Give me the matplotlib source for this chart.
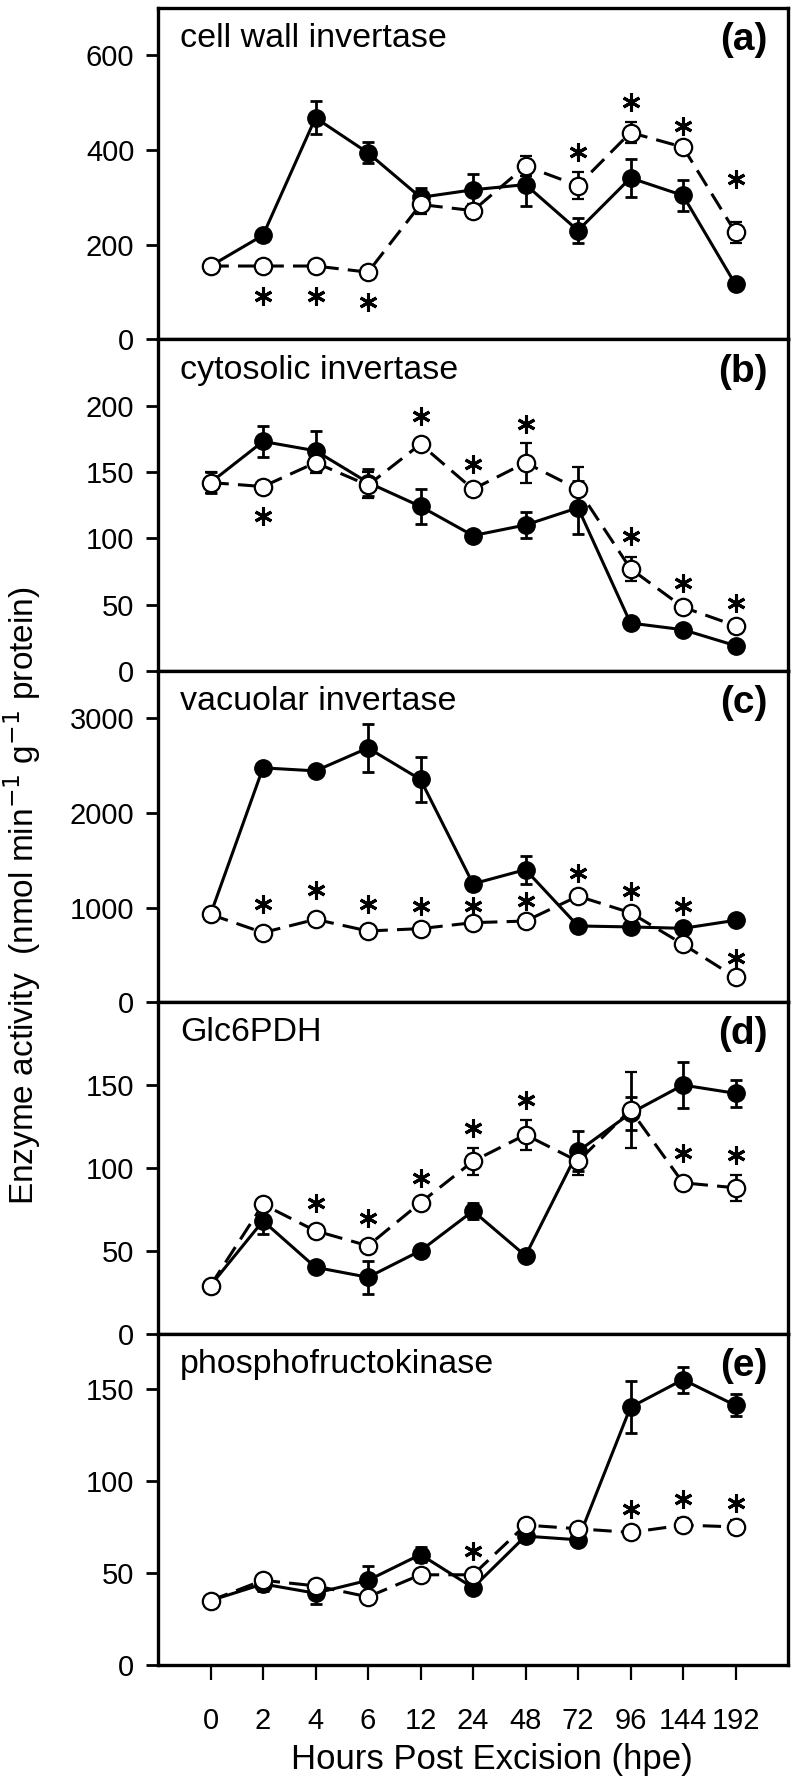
import numpy as np
from matplotlib import pyplot as plt

plt.rcParams['font.family'] = ['Liberation Sans', 'DejaVu Sans']

hours = ['0', '2', '4', '6', '12', '24', '48', '72', '96', '144', '192']

# (a) cell wall invertase
cwi_fill = [155, 220, 468, 394, 300, 316, 327, 230, 341, 304, 116]
cwi_fill_se = [6, 12, 35, 22, 20, 33, 45, 27, 40, 33, 6]
cwi_open = [155, 155, 155, 142, 285, 272, 366, 325, 437, 406, 226]
cwi_open_se = [6, 6, 6, 6, 20, 15, 21, 29, 23, 12, 22]
cwi_stars = [(1, 92), (2, 92), (3, 80), (7, 395), (8, 502), (9, 450), (10, 338)]

# (b) cytosolic invertase
cyt_fill = [142, 173, 166, 142, 124, 102, 110, 123, 36, 31, 19]
cyt_fill_se = [8, 12, 15, 10, 13, 3, 10, 20, 3, 3, 3]
cyt_open = [142, 139, 157, 140, 171, 137, 157, 137, 77, 48, 34]
cyt_open_se = [8, 4, 8, 10, 4, 4, 15, 17, 9, 4, 4]
cyt_stars = [(1, 117), (4, 192), (5, 156), (6, 186), (8, 102), (9, 66), (10, 51)]

# (c) vacuolar invertase
vac_fill = [927, 2475, 2443, 2685, 2352, 1250, 1400, 805, 795, 780, 865]
vac_fill_se = [30, 40, 50, 255, 240, 60, 147, 40, 40, 50, 40]
vac_open = [927, 735, 875, 752, 777, 840, 857, 1120, 945, 612, 262]
vac_open_se = [30, 30, 30, 30, 30, 30, 30, 30, 30, 30, 30]
vac_stars = [(1, 1032), (2, 1180), (3, 1032), (4, 1015), (5, 1015), (6, 1067),
             (7, 1365), (8, 1172), (9, 1015), (10, 472)]

# (d) Glc6PDH
g6p_fill = [29, 68, 40, 34, 50, 74, 47, 110, 133, 150, 145]
g6p_fill_se = [2, 8, 3, 10, 3, 5, 3, 12, 10, 14, 8]
g6p_open = [29, 78, 62, 53, 79, 104, 120, 104, 135, 91, 88]
g6p_open_se = [2, 3, 3, 3, 3, 8, 9, 8, 23, 3, 8]
g6p_stars = [(2, 79), (3, 70), (4, 94), (5, 124), (6, 141), (9, 109), (10, 108)]

# (e) phosphofructokinase
pfk_fill = [35, 44, 39, 46, 60, 42, 70, 68, 140, 155, 141]
pfk_fill_se = [2, 4, 6, 8, 4, 2, 3, 3, 14, 7, 6]
pfk_open = [35, 46, 43, 37, 49, 49, 76, 74, 72, 76, 75]
pfk_open_se = [2, 2, 2, 2, 2, 2, 2, 2, 2, 4, 4]
pfk_stars = [(5, 62), (8, 85), (9, 90), (10, 88)]

panels = [
    ('cell wall invertase', '(a)', cwi_fill, cwi_fill_se, cwi_open, cwi_open_se, cwi_stars, 700, [0, 200, 400, 600]),
    ('cytosolic invertase', '(b)', cyt_fill, cyt_fill_se, cyt_open, cyt_open_se, cyt_stars, 250, [0, 50, 100, 150, 200]),
    ('vacuolar invertase', '(c)', vac_fill, vac_fill_se, vac_open, vac_open_se, vac_stars, 3500, [0, 1000, 2000, 3000]),
    ('Glc6PDH', '(d)', g6p_fill, g6p_fill_se, g6p_open, g6p_open_se, g6p_stars, 200, [0, 50, 100, 150]),
    ('phosphofructokinase', '(e)', pfk_fill, pfk_fill_se, pfk_open, pfk_open_se, pfk_stars, 180, [0, 50, 100, 150]),
]

fig = plt.figure(figsize=(7.96, 17.8), dpi=100)
gs = fig.add_gridspec(5, 1, left=158/796, right=788/796, top=1 - 8/1780,
                      bottom=1 - 1665/1780, hspace=0)

x = np.arange(len(hours))
for i, (title, letter, yf, ef, yo, eo, stars, ymax, yticks) in enumerate(panels):
    ax = fig.add_subplot(gs[i])
    ax.errorbar(x, yf, yerr=ef, color='black', lw=2.2, marker='o', ms=12.5,
                mfc='black', mec='black', elinewidth=2, capsize=4, capthick=2, zorder=2)
    ax.errorbar(x, yo, yerr=eo, color='black', lw=2.2, ls=(0, (6, 3)), marker='o', ms=12.5,
                mfc='white', mec='black', mew=1.6, elinewidth=2, capsize=4, capthick=2, zorder=3)
    sx = [s[0] for s in stars]
    sy = [s[1] for s in stars]
    ax.plot(sx, sy, ls='none', marker=(6, 2, 0), ms=13, mew=2.2, color='black', zorder=4)

    ax.set_xlim(-1, 11)
    ax.set_ylim(0, ymax)
    ax.set_yticks(yticks)
    ax.tick_params(axis='y', direction='out', length=9, width=2, pad=8, labelsize=21)
    for sp in ax.spines.values():
        sp.set_linewidth(2.4)
    ax.text(0.035, 0.882, title, transform=ax.transAxes, fontsize=24.5, va='baseline', ha='left')
    ax.text(0.968, 0.903, letter, transform=ax.transAxes, fontsize=28, fontweight='bold',
            va='center', ha='right')
    if i < 4:
        ax.set_xticks([])
    else:
        ax.set_xticks(x)
        ax.set_xticklabels(hours)
        ax.tick_params(axis='x', direction='out', length=11, width=1.6, pad=19, labelsize=21)

fig.text(492/796, 1 - 1760/1780, 'Hours Post Excision (hpe)', fontsize=25, ha='center', va='center')
fig.text(22/796, 1 - 896/1780, 'Enzyme activity  (nmol min$^{-1}$ g$^{-1}$ protein)',
         fontsize=24, rotation=90, ha='center', va='center')

plt.savefig('out.png', dpi=100)
